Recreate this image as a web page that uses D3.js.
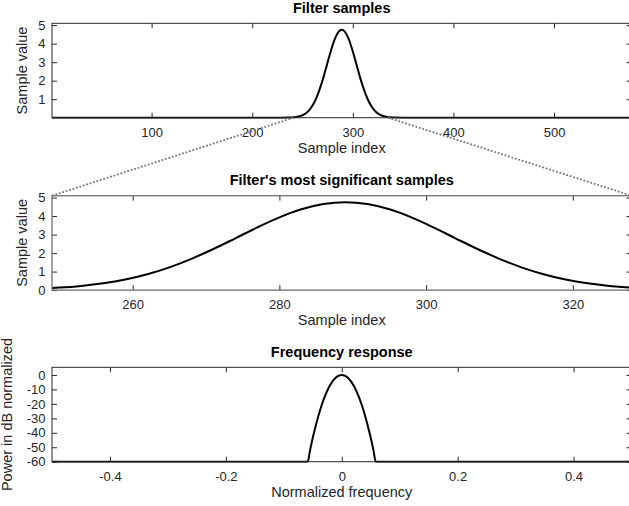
<!DOCTYPE html>
<html>
<head>
<meta charset="utf-8">
<script src="https://cdn.jsdelivr.net/npm/d3@7"></script>
<style>
  html, body { margin: 0; padding: 0; background: #fff; }
  svg { display: block; }
  text { font-family: "Liberation Sans", Arial, Helvetica, sans-serif; }
</style>
</head>
<body>
<svg id="chart" width="629" height="506"></svg>
<script>
// ---------------- data ----------------
const sampleIndex = [1, 229, 235, 241, 244, 247, 249, 250, 253, 256, 259, 262, 265, 268, 271, 274, 277, 280, 283, 286,
  289, 292, 295, 298, 301, 304, 307, 310, 313, 316, 319, 322, 325, 328, 331, 334, 337, 343, 349, 577];
const sampleValue = [0, 0, 0.005, 0.021, 0.041, 0.076, 0.111, 0.134, 0.227, 0.369, 0.575, 0.858, 1.23, 1.69, 2.22, 2.80, 3.39, 3.93, 4.365, 4.65,
  4.75, 4.65, 4.365, 3.93, 3.39, 2.80, 2.22, 1.69, 1.23, 0.858, 0.575, 0.369, 0.227, 0.134, 0.076, 0.041, 0.021, 0.005, 0, 0];

const fullRange = [1, 577];
const zoomRange = [249, 328];
const zoomLinkFrom = [241, 335];   // where the dotted connector lines leave the top plot

const normFreq = [-0.5, -0.0587, -0.055, -0.05, -0.045, -0.04, -0.035, -0.03, -0.025, -0.02, -0.015, -0.01, -0.005,
  0, 0.005, 0.01, 0.015, 0.02, 0.025, 0.03, 0.035, 0.04, 0.045, 0.05, 0.055, 0.0587, 0.5];
const powerDb = [-60, -60, -52.7, -43.5, -35.3, -27.9, -21.3, -15.7, -10.9, -7.0, -3.9, -1.74, -0.44,
  0, -0.44, -1.74, -3.9, -7.0, -10.9, -15.7, -21.3, -27.9, -35.3, -43.5, -52.7, -60, -60];

const topXTicks = [100, 200, 300, 400, 500];
const topYTicks = [1, 2, 3, 4, 5];
const midXTicks = [260, 280, 300, 320];
const midYTicks = [0, 1, 2, 3, 4, 5];
const freqTicks = [-0.4, -0.2, 0, 0.2, 0.4];
const dbTicks = [0, -10, -20, -30, -40, -50, -60];

const titles = ["Filter samples", "Filter's most significant samples", "Frequency response"];
const xLabels = ["Sample index", "Sample index", "Normalized frequency"];
const yLabels = ["Sample value", "Sample value", "Power in dB normalized"];

// ---------------- layout ----------------
const svg = d3.select("#chart");
svg.append("rect").attr("width", 629).attr("height", 506).attr("fill", "#fff");

const L = 52, R = 631.5, H = 94.4;
const tops = [23.3, 195.7, 367.3];
const axisColor = "#262626";
const tickFont = 13, labelFont = 14.5;

const pts = sampleIndex.map((d, i) => [d, sampleValue[i]]);
const fpts = normFreq.map((d, i) => [d, powerDb[i]]);

const panels = [
  { x: d3.scaleLinear().domain(fullRange).range([L, R]),
    y: d3.scaleLinear().domain([0, 5.1]).range([tops[0] + H, tops[0]]),
    xt: topXTicks, yt: topYTicks, data: pts, fmt: d => String(d), boxColor: axisColor, boxW: 1 },
  { x: d3.scaleLinear().domain(zoomRange).range([L, R]),
    y: d3.scaleLinear().domain([0, 5.1]).range([tops[1] + H, tops[1]]),
    xt: midXTicks, yt: midYTicks, data: pts, fmt: d => String(d), boxColor: "#7a7a7a", boxW: 1.4 },
  { x: d3.scaleLinear().domain([-0.5, 0.5]).range([L, R]),
    y: d3.scaleLinear().domain([-60, 5.3]).range([tops[2] + H, tops[2]]),
    xt: freqTicks, yt: dbTicks, data: fpts, fmt: d => String(d), boxColor: axisColor, boxW: 1 }
];

panels.forEach((p, i) => {
  const g = svg.append("g");
  const top = tops[i], bot = top + H;
  const clipId = "clip" + i;
  svg.append("clipPath").attr("id", clipId).append("rect")
    .attr("x", L).attr("y", top - 1).attr("width", R - L).attr("height", H + 2);

  // curve
  const line = d3.line().x(d => p.x(d[0])).y(d => p.y(d[1])).curve(d3.curveMonotoneX);
  g.append("path").datum(p.data).attr("clip-path", `url(#${clipId})`)
    .attr("d", line).attr("fill", "none").attr("stroke", "#000").attr("stroke-width", 2);

  // axes with inward ticks
  const fmt = p.fmt;
  g.append("g").attr("transform", `translate(0,${bot})`)
    .call(d3.axisBottom(p.x).tickValues(p.xt).tickSize(-5).tickPadding(10).tickFormat(fmt));
  g.append("g").attr("transform", `translate(0,${top})`)
    .call(d3.axisTop(p.x).tickValues(p.xt).tickSize(-5).tickFormat(""));
  g.append("g").attr("transform", `translate(${L},0)`)
    .call(d3.axisLeft(p.y).tickValues(p.yt).tickSize(-5).tickPadding(6.5).tickFormat(fmt));
  g.append("g").attr("transform", `translate(${R},0)`)
    .call(d3.axisRight(p.y).tickValues(p.yt).tickSize(-5).tickFormat(""));
  g.selectAll(".domain").remove();
  g.selectAll(".tick line").attr("stroke", axisColor).attr("stroke-width", 1);
  g.selectAll(".tick text").attr("fill", axisColor).style("font-size", tickFont + "px")
    .style("font-family", '"Liberation Sans", Arial, Helvetica, sans-serif');

  // box
  g.append("rect").attr("x", L).attr("y", top).attr("width", R - L).attr("height", H)
    .attr("fill", "none").attr("stroke", p.boxColor).attr("stroke-width", p.boxW);

  // title
  const cx = (L + R) / 2;
  g.append("text").attr("x", cx).attr("y", top - 10.5).attr("text-anchor", "middle")
    .style("font-size", labelFont + "px").style("font-weight", "bold").attr("fill", "#000")
    .text(titles[i]);
  // x label
  g.append("text").attr("x", cx).attr("y", bot + 35).attr("text-anchor", "middle")
    .style("font-size", labelFont + "px").attr("fill", axisColor).text(xLabels[i]);
  // y label
  const ylx = i === 2 ? 12 : 27;
  g.append("text").attr("transform", `translate(${ylx},${(top + bot) / 2}) rotate(-90)`)
    .attr("text-anchor", "middle").style("font-size", labelFont + "px").attr("fill", axisColor)
    .text(yLabels[i]);
});

// dotted connector lines from top plot to zoom plot
const pt = panels[0], pm = panels[1];
const yFrom = tops[0] + H, yTo = tops[1];
[[zoomLinkFrom[0], zoomRange[0]], [zoomLinkFrom[1], zoomRange[1]]].forEach(([a, b]) => {
  svg.append("line")
    .attr("x1", pt.x(a)).attr("y1", yFrom)
    .attr("x2", pm.x(b)).attr("y2", yTo)
    .attr("stroke", "#777").attr("stroke-width", 1.8).attr("stroke-dasharray", "1.8,1.8");
});
</script>
</body>
</html>
